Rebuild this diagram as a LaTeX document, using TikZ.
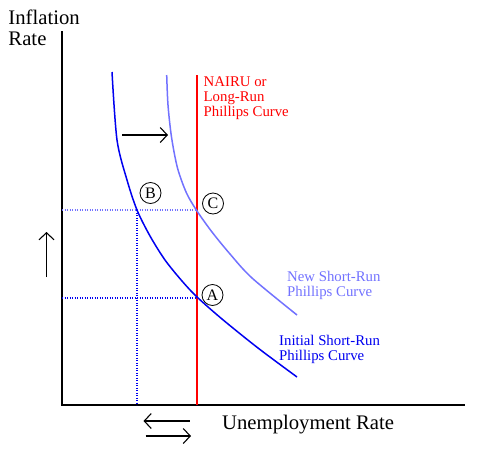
\documentclass[tikz,border=0pt]{standalone}
\usepackage{fontspec}
\setmainfont{Liberation Serif}
\usetikzlibrary{arrows.meta}
\definecolor{ink}{HTML}{000000}
\definecolor{srblue}{HTML}{0000F0}
\definecolor{srlight}{HTML}{7272FF}
\definecolor{lrred}{HTML}{FF0000}

\begin{document}
\begin{tikzpicture}[
  x=1pt, y=-1pt,
  axis/.style   = {draw=ink, line width=1.2pt},
  curve/.style  = {draw=srblue, line width=1.5pt},
  newcurve/.style = {draw=srlight, line width=1.5pt},
  lrline/.style = {draw=lrred, line width=1.2pt},
  guide/.style  = {draw=srblue, line width=1.1pt, dash pattern=on 1.1pt off 1.4pt},
  arr/.style    = {-{Straight Barb[length=7pt,width=15pt]}, draw=ink, line width=1.1pt},
  axlabel/.style = {inner sep=0pt, align=left, font=\fontsize{20.7}{21}\selectfont},
  curvelabel/.style = {inner sep=0pt, align=left, font=\fontsize{14.8}{15}\selectfont},
  ptmark/.style = {circle, draw=ink, line width=0.8pt, minimum size=21pt,
                   inner sep=0pt, font=\fontsize{16}{16}\selectfont},
]
\useasboundingbox (0,0) rectangle (477,474);

% axes
\coordinate (ytop) at (62,31);
\coordinate (xend) at (465,405);
\draw[axis] (ytop) |- (xend);

% guides to the equilibria
\coordinate (hB) at (62,210);
\coordinate (pB) at (137,210);
\coordinate (pC) at (197,210);
\coordinate (hA) at (62,298);
\coordinate (pA) at (197,298);
\coordinate (fB) at (137,405);
\coordinate (fA) at (197,405);
\draw[guide, draw=srlight] (hB) -- (pC);
\draw[guide] (pB) -- (fB);
\draw[guide] (hA) -- (pA);
\draw[guide] (pC) -- (fA);

% long-run curve
\coordinate (lrtop) at (197,75);
\draw[lrline] (lrtop) -- (fA);

% short-run curves
\draw[curve] plot[smooth] coordinates {(112,72) (117,140) (127,180) (137,210)
  (150,236) (165,260) (182,281) (197,297) (222,319) (258,348) (297,377)};
\draw[newcurve] plot[smooth] coordinates {(166.7,75) (168,105) (171.5,137)
  (177.5,168) (186.5,193) (197,211) (212,232) (230,254) (252,278) (297,315)};

% labels
\node[axlabel, anchor=north west] (ylab) at (8.3,10) {Inflation\\Rate};
\node[axlabel, anchor=base west] (xlab) at (222,429) {Unemployment Rate};
\node[curvelabel, text=lrred, anchor=north west] (lrlab) at (203.5,77)
  {NAIRU or\\Long-Run\\Phillips Curve};
\node[curvelabel, text=srlight, anchor=north west] (newlab) at (287,271)
  {New Short-Run\\Phillips Curve};
\node[curvelabel, text=srblue, anchor=north west] (inilab) at (279,335)
  {Initial Short-Run\\Phillips Curve};

\node[ptmark] (B) at (150.5,193) {B};
\node[ptmark] (C) at (213,203.5) {C};
\node[ptmark] (A) at (212.5,295) {A};

% shifts
\coordinate (sh0) at (122,135);
\coordinate (sh1) at (168,135);
\draw[arr] (sh0) -- (sh1);
\coordinate (up0) at (46.5,277);
\coordinate (up1) at (46.5,232);
\draw[arr] (up0) -- (up1);
\coordinate (lf0) at (189.5,421);
\coordinate (lf1) at (143.5,421);
\draw[arr] (lf0) -- (lf1);
\coordinate (rt0) at (145.5,436);
\coordinate (rt1) at (191,436);
\draw[arr] (rt0) -- (rt1);

\end{tikzpicture}
\end{document}
